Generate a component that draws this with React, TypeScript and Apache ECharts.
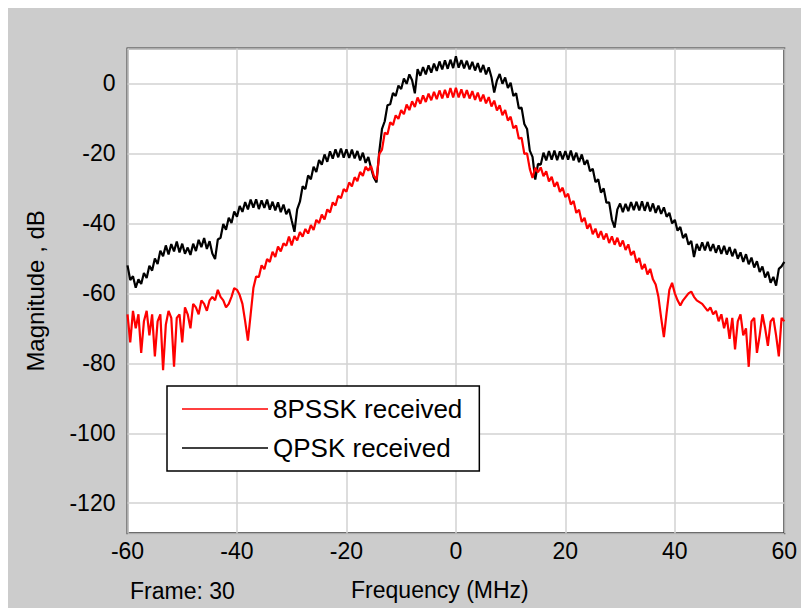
import React, { useEffect, useRef } from "react";
import * as echarts from "echarts";

// Sampling grid of the spectra (MHz)
const FREQ_START = -60;
const FREQ_STEP = 0.5;

const X_MIN = -60;
const X_MAX = 60;
const Y_MIN = -128.6;
const Y_MAX = 10;

const SERIES_NAMES = ["8PSSK received", "QPSK received"];

// 8PSSK received, dB, -60 .. 60 MHz step 0.5
const PSK8 = [
  -66, -74, -65, -70, -66, -77, -68, -65, -72, -66, -78, -68, -66, -82, -69, -65, -67, -81, -67, -66,
  -74, -64, -66, -70, -63, -64, -66, -62, -63, -65, -62, -61, -62, -59, -61, -62, -64, -63, -61, -58.5,
  -59, -60.5, -63, -68, -73.5, -66, -58.5, -55.2, -55.3, -52.0, -53.1, -50.2, -51.0, -48.1, -49.6, -46.6, -48.0, -45.7, -46.4, -43.8,
  -46.3, -43.6, -44.9, -42.5, -43.8, -41.6, -42.9, -40.5, -41.9, -39.0, -39.9, -37.5, -38.9, -36.0, -36.9, -34.0, -34.9, -32.1, -32.8, -30.2,
  -30.9, -28.3, -29.4, -26.8, -27.9, -25.3, -26.4, -23.8, -24.9, -23.6, -26.4, -27.5, -20.1, -18.9, -14.1, -14.5, -11.1, -11.9, -9.1, -10.1,
  -7.6, -8.8, -6.0, -7.6, -5.1, -6.7, -4.0, -5.8, -3.4, -5.3, -2.9, -4.8, -2.4, -4.5, -2.0, -4.3, -1.8, -4.1, -1.3, -4.0,
  -1.2, -4.0, -1.7, -4.1, -1.9, -4.3, -2.2, -4.7, -2.6, -5.1, -3.2, -5.7, -3.9, -6.6, -4.9, -7.7, -6.2, -9.1, -7.6, -10.6,
  -9.5, -12.8, -12.0, -15.8, -15.5, -20.1, -20.0, -24.4, -27.0, -24.1, -25.4, -24.0, -26.5, -25.1, -28.0, -26.7, -29.5, -28.2, -31.0, -29.8,
  -32.5, -31.5, -34.6, -33.6, -37.0, -36.1, -39.6, -38.4, -41.5, -40.1, -43.1, -41.5, -44.1, -42.2, -44.6, -42.9, -45.6, -43.7, -46.1, -44.1,
  -46.6, -44.9, -47.6, -46.0, -49.1, -47.9, -51.2, -49.9, -53.1, -51.6, -54.6, -53.0, -56.0, -57.5, -61.0, -67.0, -72.5, -65.5, -59.0, -57.0,
  -60, -62, -63.5, -62, -61, -60, -59.5, -61, -62, -62.5, -63, -64, -65, -64, -66, -65, -68, -66, -70, -67,
  -73, -67, -76, -68, -66, -72, -70, -81, -68, -67, -77, -72, -66, -70, -75, -68, -67, -72, -78, -67,
  -68,
];

// QPSK received, dB, -60 .. 60 MHz step 0.5
const QPSK = [
  -52.0, -56.2, -55.1, -58.4, -56.0, -57.3, -54.2, -55.6, -52.1, -53.5, -50.0, -51.6, -47.8, -49.4, -46.3, -48.9, -45.9, -48.0, -45.2, -48.3,
  -45.8, -48.7, -46.9, -49.0, -45.8, -47.9, -44.7, -46.8, -44.2, -47.3, -45.1, -48.6, -50.2, -44.6, -44.1, -40.2, -41.8, -38.4, -39.9, -36.6,
  -38.1, -35.0, -36.7, -33.9, -36.0, -33.2, -35.5, -33.1, -35.9, -33.4, -35.6, -33.2, -36.1, -33.8, -36.3, -34.0, -36.8, -34.6, -37.4, -35.9,
  -39.2, -42.4, -36.0, -33.8, -29.4, -30.2, -26.3, -27.4, -23.8, -25.3, -21.9, -23.2, -20.3, -22.4, -19.4, -21.5, -18.8, -21.1, -18.6, -21.2,
  -18.8, -21.3, -18.9, -21.4, -19.3, -22.0, -19.8, -22.7, -21.0, -24.2, -26.9, -28.3, -19.5, -13.0, -10.8, -6.2, -5.9, -2.7, -3.6, -0.6,
  -1.6, 1.4, -0.1, 2.6, 0.9, -2.8, 4.1, 2.2, 4.7, 2.6, 5.2, 3.1, 5.7, 3.6, 6.3, 4.0, 6.6, 4.2, 6.8, 4.4,
  7.8, 4.5, 6.7, 4.3, 6.5, 4.0, 6.2, 3.7, 5.8, 3.2, 5.3, 2.6, 4.6, 1.8, -2.6, 0.9, 2.7, -0.1, 1.7, -1.3,
  0.2, -3.6, -2.8, -7.1, -6.9, -11.6, -13.0, -19.2, -21.0, -27.5, -23.0, -23.2, -19.8, -22.0, -19.3, -21.8, -19.2, -21.9, -19.4, -21.7,
  -19.3, -21.8, -19.2, -22.0, -19.8, -22.5, -20.3, -23.2, -21.9, -25.1, -24.4, -28.2, -27.4, -31.2, -30.0, -34.1, -34.0, -38.9, -41.2, -36.0,
  -34.3, -36.8, -34.4, -36.5, -33.9, -36.2, -33.8, -36.3, -33.7, -36.4, -33.9, -36.6, -34.3, -37.0, -34.9, -37.3, -35.4, -38.1, -37.0, -40.0,
  -39.0, -42.1, -41.0, -44.2, -43.0, -46.1, -45.0, -49.6, -45.9, -47.8, -45.4, -47.7, -45.3, -47.9, -45.9, -48.4, -46.3, -48.7, -46.4, -48.9,
  -46.8, -49.4, -47.3, -50.1, -48.3, -51.0, -48.8, -51.7, -49.8, -52.6, -50.8, -53.9, -52.3, -55.5, -53.8, -57.0, -55.3, -57.8, -53.0, -52.3,
  -51.0,
];

const FONT = "'Liberation Sans', Arial, sans-serif";

export default function App() {
  const ref = useRef<HTMLDivElement>(null);

  useEffect(() => {
    if (!ref.current) return;
    const chart = echarts.init(ref.current, null, { renderer: "svg" });
    const freqAt = (i: number) => FREQ_START + i * FREQ_STEP;
    const psk8Data = PSK8.map((v, i) => [freqAt(i), v]);
    const qpskData = QPSK.map((v, i) => [freqAt(i), v]);

    chart.setOption({
      animation: false,
      backgroundColor: "#cccccc",
      textStyle: { fontFamily: FONT },
      grid: {
        left: 119.5,
        right: 24.7,
        top: 40.5,
        bottom: 74.7,
        show: true,
        backgroundColor: "#ffffff",
        borderColor: "#3c3c3c",
        borderWidth: 2,
        z: 0,
      },
      legend: {
        orient: "vertical",
        left: 159,
        top: 378,
        padding: [10, 17, 10, 15],
        itemGap: 13,
        itemWidth: 86,
        itemHeight: 1.5,
        icon: "rect",
        backgroundColor: "#ffffff",
        borderColor: "#000000",
        borderWidth: 1.5,
        borderRadius: 0,
        data: SERIES_NAMES,
        textStyle: { color: "#000000", fontSize: 26, fontFamily: FONT },
      },
      xAxis: {
        type: "value",
        min: X_MIN,
        max: X_MAX,
        interval: 20,
        name: "Frequency (MHz)",
        nameLocation: "middle",
        nameGap: 45,
        nameTextStyle: { color: "#000000", fontSize: 23, fontFamily: FONT, padding: [0, 32, 0, 0] },
        axisLine: { show: false },
        axisTick: { show: false },
        axisLabel: { color: "#000000", fontSize: 23, margin: 6, fontFamily: FONT },
        splitLine: { show: true, lineStyle: { color: "#d2d2d2", width: 1.5 } },
      },
      yAxis: {
        type: "value",
        min: Y_MIN,
        max: Y_MAX,
        splitNumber: 7,
        name: "Magnitude , dB",
        nameLocation: "middle",
        nameGap: 80,
        nameTextStyle: { color: "#000000", fontSize: 24, fontFamily: FONT },
        axisLine: { show: false },
        axisTick: { show: false },
        axisLabel: {
          color: "#000000",
          fontSize: 23,
          margin: 12,
          fontFamily: FONT,
          showMinLabel: false,
          showMaxLabel: false,
          formatter: (v: number) => (Math.abs(v % 20) < 1e-6 ? String(v) : ""),
        },
        splitLine: { show: true, lineStyle: { color: "#d2d2d2", width: 1.5 } },
      },
      graphic: [
        {
          type: "text",
          left: 122,
          top: 571,
          style: { text: "Frame: 30", fill: "#000000", fontSize: 23, fontFamily: FONT },
        },
      ],
      series: [
        {
          name: SERIES_NAMES[0],
          type: "line",
          data: psk8Data,
          symbol: "none",
          z: 3,
          lineStyle: { color: "#ff0000", width: 2.2 },
          itemStyle: { color: "#ff0000" },
        },
        {
          name: SERIES_NAMES[1],
          type: "line",
          data: qpskData,
          symbol: "none",
          z: 2,
          lineStyle: { color: "#000000", width: 2.2 },
          itemStyle: { color: "#000000" },
        },
      ],
    });

    return () => chart.dispose();
  }, []);

  return <div ref={ref} style={{ width: 801, height: 600 }} />;
}
